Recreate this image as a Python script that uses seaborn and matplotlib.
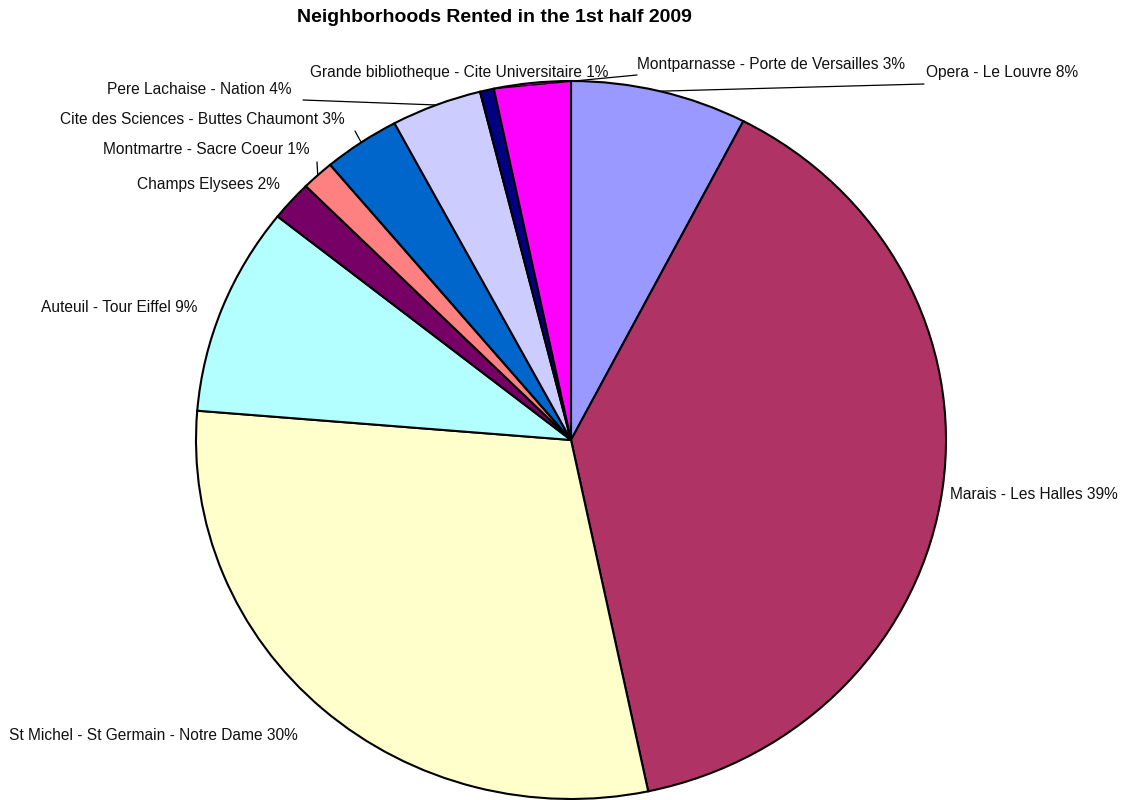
import numpy as np
import matplotlib
matplotlib.use("Agg")
import matplotlib.pyplot as plt
import seaborn as sns

# Share of rentals per neighborhood, first half of 2009 (percent)
neighborhoods = [
    "Opera - Le Louvre",
    "Marais - Les Halles",
    "St Michel - St Germain - Notre Dame",
    "Auteuil - Tour Eiffel",
    "Champs Elysees",
    "Montmartre - Sacre Coeur",
    "Cite des Sciences - Buttes Chaumont",
    "Pere Lachaise - Nation",
    "Grande bibliotheque - Cite Universitaire",
    "Montparnasse - Porte de Versailles",
]
shares = [7.6, 39.1, 29.6, 9.4, 1.8, 1.4, 3.3, 3.9, 0.6, 3.3]
slice_colors = ["#9999FF", "#B03366", "#FFFFCC", "#B3FFFF", "#770066",
                "#FF8080", "#0066CC", "#CCCCFF", "#000080", "#FF00FF"]

sns.set_theme(style="white")
plt.rcParams["font.family"] = ["Liberation Sans", "DejaVu Sans"]

W, H = 1130, 800
fig = plt.figure(figsize=(W / 100, H / 100), dpi=100)
fig.patch.set_facecolor("white")


def px(x, y):
    """Pixel position (from top-left) to figure fraction."""
    return x / W, 1 - y / H


# Pie occupies an ellipse-shaped box (slightly wider than tall)
left, top, right, bottom = 196, 81, 946, 799
ax = fig.add_axes([left / W, 1 - bottom / H, (right - left) / W, (bottom - top) / H])
wedges, _ = ax.pie(shares, colors=slice_colors, startangle=90, counterclock=False,
                   radius=1.0,
                   wedgeprops=dict(edgecolor="black", linewidth=1.5))
ax.set_aspect("auto")
ax.set_xlim(-1, 1)
ax.set_ylim(-1, 1)
ax.axis("off")

labels = [f"{name} {round(v)}%" for name, v in zip(neighborhoods, shares)]

# label placement (pixels): text left edge, vertical centre, leader-line end or None,
# and where along the wedge (0 = start edge, 1 = end edge) the leader touches
placement = [
    ((926, 73), (924, 84), 0.5),
    ((950, 494), None, 0.5),
    ((9, 735), None, 0.5),
    ((41, 308), None, 0.5),
    ((137, 185), None, 0.5),
    ((103, 150), (317, 162), 0.5),
    ((60, 120), (355, 131), 0.5),
    ((107, 90), (303, 100), 0.5),
    ((310, 72), None, 0.5),
    ((637, 64), (637, 75), 1.0),
]

fs = 11.2
for w, lab, (txt, lead, frac) in zip(wedges, labels, placement):
    fig.text(*px(*txt), lab, ha="left", va="center", fontsize=fs, color="#111111")
    if lead is not None:
        ang = np.deg2rad(w.theta1 + frac * (w.theta2 - w.theta1))
        ax.annotate("", xy=(np.cos(ang), np.sin(ang)), xycoords="data",
                    xytext=px(*lead), textcoords="figure fraction",
                    arrowprops=dict(arrowstyle="-", lw=0.9, color="black",
                                    shrinkA=0, shrinkB=0))

fig.text(*px(494, 18), "Neighborhoods Rented in the 1st half 2009",
         ha="center", va="center", fontsize=14, fontweight="bold", color="black")

fig.savefig("out.png", dpi=100, facecolor="white")
